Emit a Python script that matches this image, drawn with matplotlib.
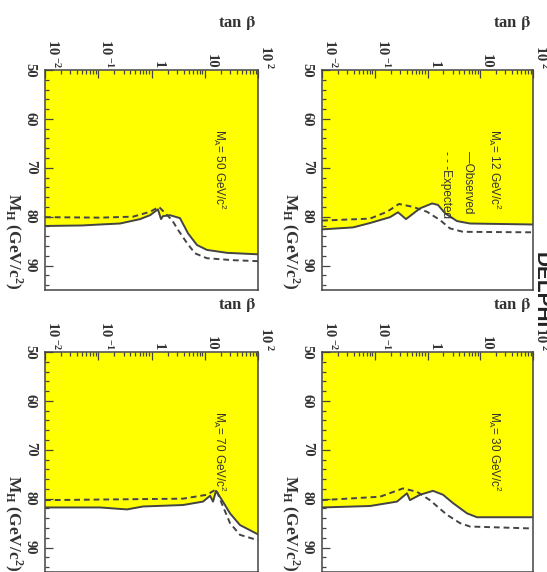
import numpy as np
import matplotlib
matplotlib.use('Agg')
import matplotlib.pyplot as plt
from matplotlib.ticker import FixedLocator, LogLocator, NullFormatter, MultipleLocator

plt.rcParams['font.family'] = ['Liberation Serif', 'DejaVu Serif']
plt.rcParams['mathtext.fontset'] = 'custom'
plt.rcParams['mathtext.rm'] = 'Liberation Sans'
plt.rcParams['mathtext.it'] = 'Liberation Sans:italic'
plt.rcParams['mathtext.bf'] = 'Liberation Serif:bold'

# M_A = 12 GeV/c^2
tb_obs_12 = [0.01, 0.0387, 0.0813, 0.195, 0.276, 0.391, 0.721, 1.22, 1.58, 2.15, 3.62, 6.4, 100]
mh_obs_12 = [82.6, 82.2, 81.3, 80.1, 79.1, 80.5, 78.3, 77.3, 77.6, 79.3, 80.9, 81.4, 81.6]
tb_exp_12 = [0.01, 0.0813, 0.171, 0.288, 0.531, 0.98, 1.73, 2.67, 4.71, 100]
mh_exp_12 = [80.8, 80.4, 79.0, 77.4, 78.0, 79.0, 80.7, 82.4, 83.1, 83.2]

# M_A = 30 GeV/c^2
tb_obs_30 = [0.01, 0.0813, 0.264, 0.408, 0.465, 0.721, 1.27, 1.97, 3.04, 5.61, 8.67, 100]
mh_obs_30 = [81.8, 81.5, 80.6, 78.9, 80.3, 79.2, 78.4, 79.2, 80.9, 83.0, 83.8, 83.8]
tb_exp_30 = [0.01, 0.126, 0.344, 0.632, 1.11, 2.34, 4.13, 6.4, 100]
mh_exp_30 = [80.3, 79.6, 77.9, 78.6, 80.3, 83.3, 85.0, 85.7, 86.1]

# M_A = 50 GeV/c^2
tb_obs_50 = [0.01, 0.05, 0.108, 0.256, 0.61, 0.94, 1.32, 1.51, 1.64, 2.22, 3.43, 4.84, 7.15, 11.0, 26.2, 100]
mh_obs_50 = [81.9, 81.8, 81.6, 81.4, 80.5, 79.7, 78.5, 80.5, 79.9, 79.7, 80.3, 83.4, 85.8, 86.8, 87.4, 87.7]
tb_exp_50 = [0.01, 0.108, 0.45, 0.94, 1.38, 2.43, 3.15, 4.64, 6.56, 11.0, 33.9, 100]
mh_exp_50 = [80.1, 80.2, 80.0, 79.0, 78.0, 80.7, 82.7, 85.4, 87.5, 88.5, 88.9, 89.1]

# M_A = 70 GeV/c^2
tb_obs_70 = [0.01, 0.108, 0.347, 0.69, 3.9, 9.27, 12.6, 14.3, 16.3, 21.1, 29.8, 45.9, 100]
mh_obs_70 = [81.8, 81.8, 82.2, 81.6, 81.3, 80.6, 79.4, 80.6, 78.4, 80.3, 83.0, 85.4, 87.3]
tb_exp_70 = [0.01, 3.9, 11.0, 16.3, 22.0, 29.8, 45.9, 100]
mh_exp_70 = [80.3, 80.0, 79.2, 78.1, 81.6, 85.0, 87.4, 88.5]

tb_ticks = [0.01, 0.1, 1, 10, 100]
tb_labels = [r'$\mathbf{10}^{\;\mathbf{-2}}$', r'$\mathbf{10}^{\;\mathbf{-1}}$', '1', '10', r'$\mathbf{10}^{\;\mathbf{2}}$']
mh_ticks = [50, 60, 70, 80, 90]

W, H = 547, 572
fig = plt.figure(figsize=(W / 100, H / 100), dpi=100)
fig.patch.set_facecolor('white')

line_col = '#444444'
text_col = '#333333'
yellow = '#ffff00'


def panel(px, py, pw, ph, tb_obs, mh_obs, tb_exp, mh_exp, ma, legend=False):
    ax = fig.add_axes([px / W, 1 - (py + ph) / H, pw / W, ph / H])
    ax.fill_between(tb_obs, 50, mh_obs, color=yellow, lw=0)
    ax.plot(tb_obs, mh_obs, '-', color=line_col, lw=1.4)
    ax.plot(tb_exp, mh_exp, '--', color=line_col, lw=1.4, dashes=(3, 2))
    ax.set_xscale('log')
    ax.set_xlim(0.01, 100)
    ax.set_ylim(95, 50)

    ax.xaxis.tick_top()
    ax.xaxis.set_major_locator(FixedLocator(tb_ticks))
    ax.xaxis.set_minor_locator(LogLocator(base=10, subs=np.arange(2, 10)))
    ax.xaxis.set_minor_formatter(NullFormatter())
    ax.set_xticklabels(tb_labels)
    ax.yaxis.set_major_locator(FixedLocator(mh_ticks))
    ax.yaxis.set_minor_locator(MultipleLocator(2))
    ax.tick_params(which='both', direction='in', colors=line_col, width=0.9)
    ax.tick_params(which='major', length=6)
    ax.tick_params(which='minor', length=3)
    ax.tick_params(axis='x', pad=1, labelcolor=text_col, labelsize=10.5)
    ax.tick_params(axis='y', pad=6, labelcolor=text_col, labelsize=10.5)
    for lab in ax.get_xticklabels():
        lab.set_rotation(270)
        lab.set_ha('left')
        lab.set_va('bottom')
        lab.set_fontweight('bold')
    for lab in ax.get_yticklabels():
        lab.set_rotation(270)
        lab.set_ha('right')
        lab.set_va('center')
        lab.set_fontweight('bold')
    for sp in ax.spines.values():
        sp.set_color(line_col)
        sp.set_linewidth(1.1)

    # axis titles
    fig.text((px + pw - 2) / W, 1 - (py - 47) / H, r'tan $\mathbf{\beta}$', ha='right', va='center',
             fontsize=12, fontweight='bold', color=text_col, math_fontfamily='stix')
    fig.text((px - 42) / W, 1 - (py + ph) / H, r'M$_{\mathbf{H}}$ (GeV/c$^{\mathbf{2}}$)', rotation=270,
             ha='left', va='bottom', fontsize=12.5, fontweight='bold', color=text_col)

    ax.text(0.82, 0.73, r'M$_{\rm A}$= %d GeV/c$^{2}$' % ma, transform=ax.transAxes, rotation=270,
            ha='center', va='top', fontsize=8.5, family='Liberation Sans', color=text_col)
    if legend:
        ax.text(0.69, 0.63, '\u2014Observed', transform=ax.transAxes, rotation=270,
                ha='center', va='top', fontsize=8.5, family='Liberation Sans', color=text_col)
        ax.text(0.59, 0.63, '- - -Expected', transform=ax.transAxes, rotation=270,
                ha='center', va='top', fontsize=8.5, family='Liberation Sans', color=text_col)
    return ax


panel(322, 70, 211, 220, tb_obs_12, mh_obs_12, tb_exp_12, mh_exp_12, 12, legend=True)
panel(45, 70, 213, 220, tb_obs_50, mh_obs_50, tb_exp_50, mh_exp_50, 50)
panel(322, 352, 211, 220, tb_obs_30, mh_obs_30, tb_exp_30, mh_exp_30, 30)
panel(45, 352, 213, 220, tb_obs_70, mh_obs_70, tb_exp_70, mh_exp_70, 70)

# experiment name, cut by the right edge as in the scan
fig.text(532 / W, 1 - 252 / H, 'DELPHI', rotation=270, ha='left', va='top',
         fontsize=15, fontweight='bold', family='Liberation Sans', color='#222222')

fig.savefig('out.png', dpi=100)
